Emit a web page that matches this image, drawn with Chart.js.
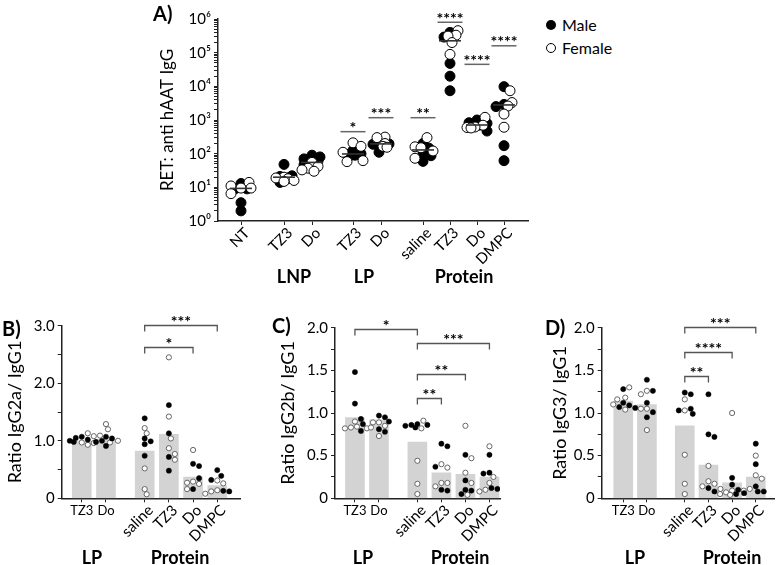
<!DOCTYPE html>
<html><head><meta charset="utf-8">
<script src="https://cdn.jsdelivr.net/npm/chart.js@4.4.1/dist/chart.umd.min.js"></script>
<style>
body{margin:0;background:#fff;width:779px;height:565px;position:relative;overflow:hidden;font-family:Lato,'Liberation Sans',sans-serif;}
canvas{position:absolute;}
.t{position:absolute;white-space:nowrap;color:#000;line-height:1;}
.grp{font-weight:bold;font-size:18px;transform:translate(-50%,-50%);}
.pl{font-weight:bold;font-size:20px;transform:translateY(-50%);}
.lg{font-size:16px;transform:translateY(-50%);}
</style></head><body>
<canvas id="cA" width="395" height="290" style="left:145px;top:0px;width:395px;height:290px"></canvas>
<canvas id="cB" width="252" height="275" style="left:0px;top:290px;width:252px;height:275px"></canvas>
<canvas id="cC" width="252" height="275" style="left:260px;top:290px;width:252px;height:275px"></canvas>
<canvas id="cD" width="267" height="275" style="left:512px;top:290px;width:267px;height:275px"></canvas>

<div class="t pl" style="left:153px;top:13px">A)</div>
<div class="t pl" style="left:2px;top:328px">B)</div>
<div class="t pl" style="left:272px;top:325px">C)</div>
<div class="t pl" style="left:545px;top:327px">D)</div>

<div class="t grp" style="left:294px;top:276px">LNP</div>
<div class="t grp" style="left:364px;top:276px">LP</div>
<div class="t grp" style="left:464px;top:276px">Protein</div>
<div class="t grp" style="left:92px;top:557px">LP</div>
<div class="t grp" style="left:180px;top:557px">Protein</div>
<div class="t grp" style="left:363px;top:557px">LP</div>
<div class="t grp" style="left:460px;top:557px">Protein</div>
<div class="t grp" style="left:635px;top:557px">LP</div>
<div class="t grp" style="left:732px;top:557px">Protein</div>

<div style="position:absolute;left:546px;top:20px;width:10px;height:10px;border-radius:50%;background:#000"></div>
<div class="t lg" style="left:562px;top:25px">Male</div>
<div style="position:absolute;left:546px;top:43px;width:8px;height:8px;border-radius:50%;border:1px solid #000;background:#fff"></div>
<div class="t lg" style="left:562px;top:48px">Female</div>

<script>
// ---------------- DATA ----------------
const catsA = ['NT','TZ3','Do','TZ3','Do','saline','TZ3','Do','DMPC'];
const maleA = [
  [13, 9, 9, 3.5, 2],
  [48, 22, 21, 20, 14],
  [90, 80, 70, 60, 47],
  [125, 100, 95, 90, 90],
  [200, 195, 190, 185, 110],
  [200, 145, 102, 87, 59],
  [400000, 290000, 48000, 20000, 7400],
  [1000, 830, 800, 700, 470],
  [9800, 2900, 2500, 173, 62]
];
const femaleA = [
  [14, 11, 9.5, 9.5, 6.5],
  [20, 19, 18, 16, 15],
  [55, 42, 37, 33, 30],
  [210, 165, 110, 62, 58],
  [310, 300, 200, 165, 155],
  [300, 160, 150, 120, 73],
  [450000, 330000, 310000, 200000, 89000],
  [1200, 700, 620, 600, 580],
  [7400, 3300, 2600, 1500, 610]
];
const medianA = [9.3, 20, 55, 98, 195, 129, 225000, 710, 2800];
const yTicksA = [1, 10, 100, 1000, 10000, 100000, 1000000];
const sigA = [
  {g:3, y:450, t:'*'}, {g:4, y:1170, t:'***'}, {g:5, y:1170, t:'**'},
  {g:6, y:800000, t:'****'}, {g:7, y:45000, t:'****'}, {g:8, y:160000, t:'****'}
];

const catsR = ['TZ3','Do','saline','TZ3','Do','DMPC'];

const barB = [1.0, 1.02, 0.82, 1.11, 0.37, 0.22];
const maleB = [[1.07,1.05,1.02,1.0,0.98],[1.07,1.04,1.0,0.98,0.91],[1.39,1.04,0.99,0.94,0.74],[1.62,1.13,0.72,0.48],[0.6,0.56,0.35,0.16],[0.49,0.39,0.32,0.13,0.12]];
const femaleB = [[1.13,1.08,0.97,0.96,0.93],[1.29,1.2,1.09,1.0,0.97],[1.22,1.13,0.52,0.16,0.07],[2.45,1.42,1.04,0.87,0.77,0.67],[0.84,0.29,0.27,0.25,0.16],[0.31,0.26,0.14,0.12,0.08]];
const sigB = [{a:2,b:4,y:2.63,t:'*'},{a:2,b:5,y:3.01,t:'***'}];

const barC = [0.945, 0.92, 0.66, 0.30, 0.28, 0.25];
const maleC = [[1.48,1.11,0.93,0.87,0.79],[0.97,0.95,0.9,0.81,0.78],[0.87,0.86,0.86,0.85,0.83],[0.64,0.61,0.37,0.10,0.09],[0.51,0.21,0.10,0.09,0.05],[0.51,0.30,0.29,0.12,0.11]];
const femaleC = [[0.9,0.84,0.83,0.82,0.82],[0.89,0.89,0.85,0.83,0.73],[0.91,0.82,0.44,0.17,0.05],[0.40,0.36,0.18,0.18,0.14],[0.85,0.47,0.30,0.18,0.04],[0.61,0.25,0.18,0.10,0.08]];
const sigC = [{a:0,b:2,y:1.99,t:'*'},{a:2,b:5,y:1.82,t:'***'},{a:2,b:4,y:1.46,t:'**'},{a:2,b:3,y:1.17,t:'**'}];

const barD = [1.14, 1.10, 0.85, 0.39, 0.18, 0.25];
const maleD = [[1.28,1.12,1.09,1.07,1.06],[1.39,1.26,1.12,1.01,0.95],[1.24,1.22,1.05,1.03,0.99],[1.22,0.75,0.72,0.12,0.08],[0.24,0.16,0.10,0.06,0.05],[0.64,0.40,0.14,0.08,0.08]];
const femaleD = [[1.30,1.18,1.16,1.10,1.04],[1.26,1.22,1.05,1.05,0.80],[1.16,1.03,0.51,0.17,0.05],[0.38,0.20,0.17,0.14,0.11],[1.0,0.09,0.07,0.05,0.04],[0.50,0.27,0.23,0.11,0.09]];
const sigD = [{a:2,b:5,y:2.01,t:'***'},{a:2,b:4,y:1.71,t:'****'},{a:2,b:3,y:1.43,t:'**'}];

// ---------------- LAYOUT ----------------
const posA = [23, 66, 94, 135, 163, 205, 232, 259, 286];
const posR = [0, 1, 2.6, 3.6, 4.6, 5.6];
const FONT = 'Lato, "Liberation Sans", sans-serif';
Chart.defaults.font.family = FONT;
Chart.defaults.color = '#000';
const SUP = ['\u2070','\u00b9','\u00b2','\u00b3','\u2074','\u2075','\u2076','\u2077','\u2078','\u2079'];

function pts(groups, pos){ const out=[]; groups.forEach((g,i)=>g.forEach(v=>out.push({x:pos[i], y:v}))); return out; }

const beeswarm = {
  id:'beeswarm',
  afterDatasetsUpdate(chart, args, opts){
    const groups = {};
    chart.data.datasets.forEach((ds,i)=>{
      if(!ds.swarm) return;
      const meta = chart.getDatasetMeta(i);
      meta.data.forEach((el,j)=>{
        const key = ds.data[j].x;
        const g = groups[key] = groups[key] || [];
        g.push({el, k: g.filter(o=>o.ds===i).length, ds:i});
      });
    });
    Object.values(groups).forEach(list=>{
      list.sort((a,b)=> a.k-b.k || a.ds-b.ds);
      const placed=[];
      list.forEach(({el})=>{
        const x0 = el.x; let best = 0, bestScore = -1;
        for(let k=0;k<200;k++){
          const off = (k%2?1:-1)*Math.ceil(k/2)*opts.step;
          if(Math.abs(off) > opts.maxOff) break;
          const cx = x0+off;
          const score = placed.length ? Math.min(...placed.map(p=>Math.hypot(p.x-cx, p.y-el.y))) : Infinity;
          if(score >= opts.minDist){ best = off; break; }
          if(score > bestScore){ bestScore = score; best = off; }
        }
        el.x = x0+best;
        placed.push({x:el.x, y:el.y});
      });
    });
  }
};

function xLabels(labels, pos, rot, dx, dy, size, hsize){
  return { id:'xlabels', afterDraw(chart){
    const {ctx} = chart; const x = chart.scales.x; const yb = chart.chartArea.bottom;
    ctx.save(); ctx.fillStyle='#000';
    labels.forEach((lab,i)=>{
      const px = x.getPixelForValue(pos[i]);
      if(rot[i]){
        ctx.font = size+'px '+FONT;
        ctx.save(); ctx.translate(px+dx, yb+dy); ctx.rotate(-Math.PI/4);
        ctx.textAlign='right'; ctx.textBaseline='middle'; ctx.fillText(lab,0,0); ctx.restore();
      } else {
        ctx.font = hsize+'px '+FONT;
        ctx.textAlign='center'; ctx.textBaseline='middle'; ctx.fillText(lab, px, yb+13);
      }
    });
    ctx.restore();
  }};
}

function brackets(sig, pos){
  return { id:'brackets', afterDraw(chart){
    const {ctx} = chart; const x = chart.scales.x, y = chart.scales.y;
    ctx.save(); ctx.strokeStyle='#555'; ctx.lineWidth=1.3; ctx.fillStyle='#000';
    ctx.font='bold 16px '+FONT; ctx.textAlign='center'; ctx.textBaseline='alphabetic';
    sig.forEach(s=>{
      const x1=x.getPixelForValue(pos[s.a]), x2=x.getPixelForValue(pos[s.b]), py=Math.round(y.getPixelForValue(s.y))+0.5;
      ctx.beginPath(); ctx.moveTo(x1,py+6); ctx.lineTo(x1,py); ctx.lineTo(x2,py); ctx.lineTo(x2,py+6); ctx.stroke();
      ctx.fillText(s.t,(x1+x2)/2, py+1.5);
    });
    ctx.restore();
  }};
}

const annotA = { id:'annotA', afterDraw(chart){
  const {ctx} = chart; const x = chart.scales.x, y = chart.scales.y;
  ctx.save();
  ctx.strokeStyle='#333'; ctx.lineWidth=1.6;
  medianA.forEach((m,i)=>{
    const px=x.getPixelForValue(posA[i]), py=y.getPixelForValue(m);
    ctx.beginPath(); ctx.moveTo(px-11,py); ctx.lineTo(px+11,py); ctx.stroke();
  });
  ctx.strokeStyle='#666'; ctx.lineWidth=1.5; ctx.fillStyle='#000';
  ctx.font='bold 16px '+FONT; ctx.textAlign='center'; ctx.textBaseline='alphabetic';
  sigA.forEach(s=>{
    const px=x.getPixelForValue(posA[s.g]), py=y.getPixelForValue(s.y);
    ctx.beginPath(); ctx.moveTo(px-12.5,py); ctx.lineTo(px+12.5,py); ctx.stroke();
    ctx.fillText(s.t, px, py+1.5);
  });
  ctx.restore();
}};

const axisCommon = {
  grid:{drawOnChartArea:false, drawTicks:true, tickLength:4, tickColor:'#222', offset:false},
  border:{color:'#222', width:1.5}
};

// ---------------- PANEL A ----------------
new Chart(document.getElementById('cA'), {
  type:'scatter',
  data:{ datasets:[
    {label:'Male', data:pts(maleA,posA), swarm:true, pointRadius:5, backgroundColor:'#000', borderColor:'#000', borderWidth:1, order:1},
    {label:'Female', data:pts(femaleA,posA), swarm:true, pointRadius:5, backgroundColor:'#fff', borderColor:'#000', borderWidth:1, order:0}
  ]},
  options:{
    responsive:false, animation:false, events:[], clip:false,
    layout:{padding:{top:19, right:12, left:0, bottom:0}},
    plugins:{legend:{display:false}, tooltip:{enabled:false}, beeswarm:{minDist:7, step:2, maxOff:11}},
    scales:{
      x:{type:'linear', min:0, max:310, ...axisCommon,
         afterBuildTicks:s=>{ s.ticks = posA.map(v=>({value:v})); },
         ticks:{display:false, autoSkip:false},
         afterFit:s=>{ s.height=69; }},
      y:{type:'logarithmic', min:1, max:1000000, ...axisCommon,
         afterBuildTicks:s=>{ const t=[]; yTicksA.forEach((d,e)=>{ for(let m=1;m<=9;m++){ const v=m*d; if(v<=1000000) t.push({value:v, major:m===1}); } }); s.ticks=t; },
         ticks:{autoSkip:false, padding:3, font:{size:15}, color:'#000',
           callback:(v)=>{ const i=yTicksA.indexOf(v); return i>=0 ? '10'+SUP[i] : ''; }},
         title:{display:true, text:'RET: anti hAAT IgG', font:{size:17}, padding:{top:12.3,bottom:0}},
         afterFit:s=>{ s.width=73; }}
    }
  },
  plugins:[beeswarm, annotA, xLabels(catsA, posA, catsA.map(()=>true), 6, 9.5, 15, 15)]
});

// ---------------- PANELS B-D ----------------
function ratioChart(id, bars, male, female, sig, cfg){
  return new Chart(document.getElementById(id), {
    type:'bar',
    data:{ datasets:[
      {type:'scatter', label:'Male', data:pts(male,posR), swarm:true, pointRadius:2.6, backgroundColor:'#000', borderColor:'#000', borderWidth:0.5, order:0},
      {type:'scatter', label:'Female', data:pts(female,posR), swarm:true, pointRadius:2.6, backgroundColor:'#fff', borderColor:'#666', borderWidth:1, order:1},
      {type:'bar', label:'Mean', data:bars.map((v,i)=>({x:posR[i], y:v})), backgroundColor:'#d3d3d3', borderWidth:0, barThickness:19, order:2}
    ]},
    options:{
      responsive:false, animation:false, events:[],
      layout:{padding:{top:cfg.top, right:cfg.right, left:0, bottom:0}},
      plugins:{legend:{display:false}, tooltip:{enabled:false}, beeswarm:{minDist:5.4, step:2, maxOff:12}},
      scales:{
        x:{type:'linear', min:cfg.xmin, max:cfg.xmax, offset:false, ...axisCommon,
           afterBuildTicks:s=>{ s.ticks = posR.map(v=>({value:v})); },
           ticks:{display:false, autoSkip:false},
           afterFit:s=>{ s.height=66.7; }},
        y:{type:'linear', min:0, max:cfg.ymax, ...axisCommon,
           ticks:{stepSize:cfg.step, autoSkip:false, padding:3, font:{size:15}, color:'#000',
             callback:(v)=>{ if(Math.abs(v)<1e-9) return '0'; const r=v/cfg.lab; return Math.abs(r-Math.round(r))<1e-6 ? v.toFixed(1) : ''; }},
           title:{display:true, text:cfg.title, font:{size:18}, padding:{top:cfg.tpad,bottom:0}},
           afterFit:s=>{ s.width=cfg.yw; }}
      }
    },
    plugins:[beeswarm, brackets(sig,posR), xLabels(catsR, posR, [false,false,true,true,true,true], 6, 9.5, 15, 13)]
  });
}

ratioChart('cB', barB, maleB, femaleB, sigB, {top:35.7, right:12, xmin:-0.83, xmax:6.54, ymax:3, step:0.5, lab:1, title:'Ratio IgG2a/ IgG1', tpad:4.2, yw:61.7});
ratioChart('cC', barC, maleC, femaleC, sigC, {top:37.7, right:12, xmin:-0.83, xmax:6.04, ymax:2, step:0.25, lab:0.5, title:'Ratio IgG2b/ IgG1', tpad:17.7, yw:75});
ratioChart('cD', barD, maleD, femaleD, sigD, {top:37.7, right:4, xmin:-0.91, xmax:6.37, ymax:2, step:0.25, lab:0.5, title:'Ratio IgG3/ IgG1', tpad:37.2, yw:89.7});
</script>
</body></html>
